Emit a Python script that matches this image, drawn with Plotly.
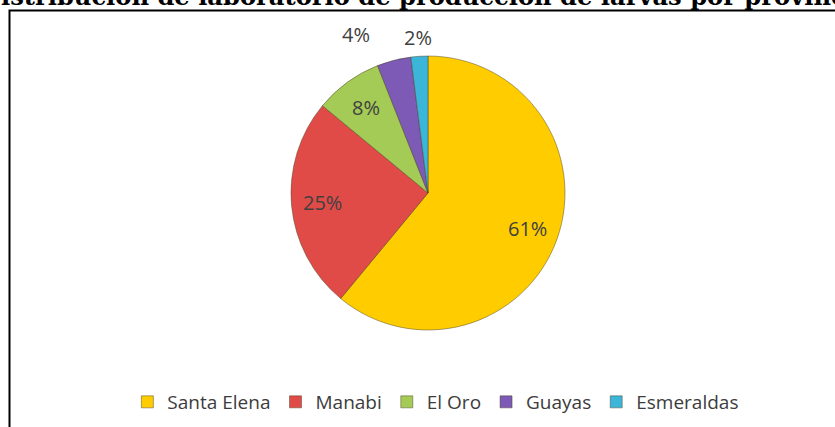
import math
import plotly.graph_objects as go

# Provinces and share of larva-production laboratories (%)
provincias = ["Santa Elena", "Manabi", "El Oro", "Guayas", "Esmeraldas"]
porcentajes = [61, 25, 8, 4, 2]
colores = ["#FFCC00", "#E04B48", "#A3CB55", "#7D5AB5", "#3CB6D8"]

titulo = "Distribución de laboratorio de producción de larvas por provincia"

W, H = 835, 427
cx, cy, r = 428, 193, 137  # pie centre and radius in pixels

# radial position of each percentage label, as a fraction of the radius
label_radius = [0.77, 0.77, 0.77, 1.27, 1.14]
label_shift_deg = [0, 0, 0, -10, 0]

fig = go.Figure()
fig.add_trace(go.Pie(
    labels=provincias,
    values=porcentajes,
    sort=False,
    direction="clockwise",
    rotation=0,
    marker=dict(colors=colores, line=dict(color="rgba(70,60,30,0.45)", width=1)),
    textinfo="none",
    hoverinfo="label+percent",
    domain=dict(x=[(cx - r) / W, (cx + r) / W],
                y=[1 - (cy + r) / H, 1 - (cy - r) / H]),
))

# percentage labels placed at each slice's mid-angle
annotations = []
total = sum(porcentajes)
start = 0.0
for v, rf, sh in zip(porcentajes, label_radius, label_shift_deg):
    mid = (start + v / 2) / total * 2 * math.pi + math.radians(sh)
    start += v
    px = cx + rf * r * math.sin(mid)
    py = cy - rf * r * math.cos(mid)
    annotations.append(dict(
        x=px / W, y=1 - py / H, xref="paper", yref="paper",
        text=f"{v}%", showarrow=False, xanchor="center", yanchor="middle",
        font=dict(family="Open Sans", size=20, color="#404040"),
    ))

# heading, running past both edges of the page
annotations.append(dict(
    x=-22 / W, y=1 - 13 / H, xref="paper", yref="paper",
    text=f"<b>{titulo}</b>", showarrow=False, xanchor="left", yanchor="bottom",
    font=dict(family="DejaVu Serif", size=24.2, color="#000000"),
))

fig.update_layout(
    width=W, height=H,
    margin=dict(l=0, r=0, t=0, b=0),
    paper_bgcolor="white",
    plot_bgcolor="white",
    showlegend=True,
    legend=dict(
        orientation="h", x=0.522, xanchor="center", y=1 - 402 / H, yanchor="middle",
        font=dict(family="Open Sans", size=19, color="#3c3c3c"),
        itemclick=False,
    ),
    annotations=annotations,
    shapes=[dict(
        type="rect", xref="paper", yref="paper",
        x0=9.5 / W, y0=1 - 10.5 / H, x1=1.2, y1=-0.2,
        line=dict(color="black", width=2), layer="above",
    )],
)

fig.write_html("out.html")
